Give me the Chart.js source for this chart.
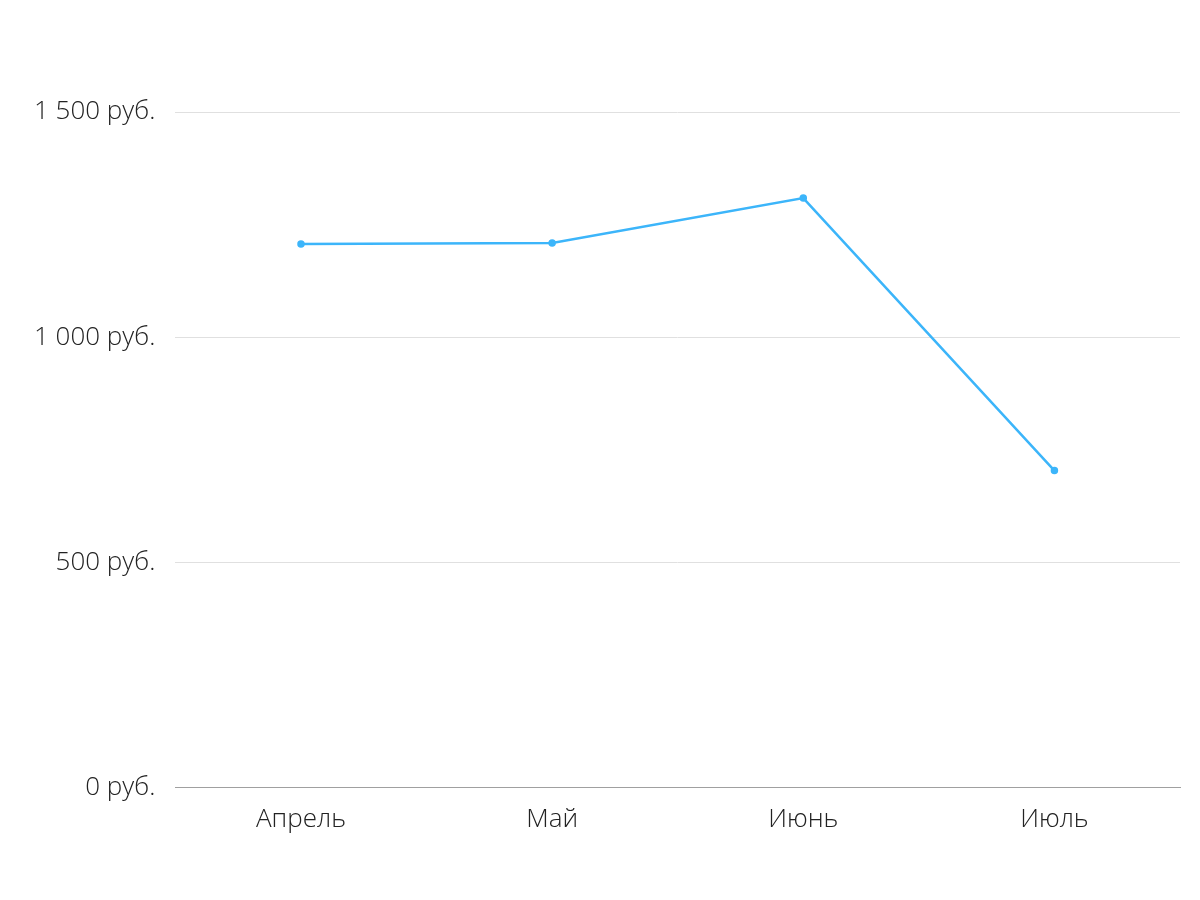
<!DOCTYPE html>
<html>
<head>
<meta charset="utf-8">
<script src="https://cdn.jsdelivr.net/npm/chart.js@4/dist/chart.umd.min.js"></script>
<style>
  html, body { margin: 0; padding: 0; background: #fff; }
  #wrap { width: 1200px; height: 900px; }
</style>
</head>
<body>
<div id="wrap"><canvas id="graph1" width="1200" height="900"></canvas></div>
<script>
var months = ['Апрель', 'Май', 'Июнь', 'Июль'];
var revenue = [1207, 1209, 1309, 704];
var yTicks = [0, 500, 1000, 1500];

function rub(v) {
  return String(v).replace(/\B(?=(\d{3})+(?!\d))/g, ' ') + ' руб.';
}

document.addEventListener('DOMContentLoaded', function() {
  var ctx = document.querySelector('#graph1').getContext('2d');
  var chart = new Chart(ctx, {
    type: 'line',
    data: {
      labels: months,
      datasets: [{
        data: revenue,
        borderColor: '#3cb5fa',
        backgroundColor: '#3cb5fa',
        borderWidth: 2.5,
        pointRadius: 2.5,
        pointHoverRadius: 2.5,
        tension: 0,
        fill: false
      }]
    },
    options: {
      responsive: false,
      animation: false,
      layout: { padding: { top: 112, right: 20, left: 14, bottom: 49 } },
      plugins: { legend: { display: false }, tooltip: { enabled: false } },
      scales: {
        x: {
          offset: true,
          grid: { display: false, drawTicks: false },
          border: { color: '#a0a0a0' },
          ticks: {
            padding: 16,
            color: '#222',
            font: { family: 'Open Sans', weight: 300, size: 26 }
          }
        },
        y: {
          min: 0,
          max: 1500,
          afterBuildTicks: function(axis) {
            axis.ticks = yTicks.map(function(v) { return { value: v }; });
          },
          grid: { color: '#e0e0e0', drawTicks: false },
          border: { display: false },
          ticks: {
            padding: 20,
            color: '#222',
            font: { family: 'Open Sans', weight: 300, size: 26 },
            callback: function(v) { return rub(v); }
          }
        }
      }
    }
  });
});
</script>
</body>
</html>
